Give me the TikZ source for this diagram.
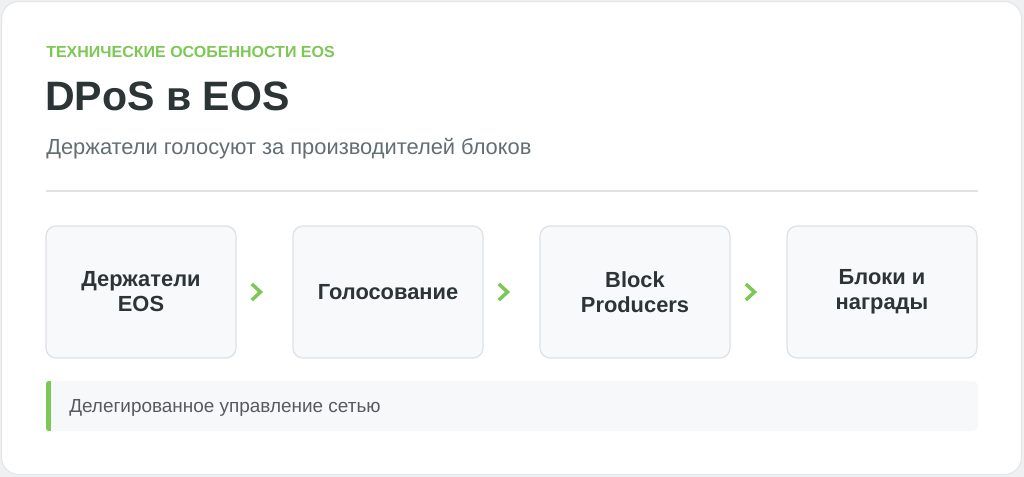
\documentclass[tikz,border=0pt]{standalone}
\usepackage{fontspec}
\usetikzlibrary{calc}
\setmainfont{Liberation Sans}
\definecolor{pagebg}{HTML}{EEF0F2}
\definecolor{cardborder}{HTML}{E3E6E9}
\definecolor{accent}{HTML}{7DC855}
\definecolor{titlec}{HTML}{2D3436}
\definecolor{subc}{HTML}{636E72}
\definecolor{rulec}{HTML}{DFE3E6}
\definecolor{boxfill}{HTML}{F7F9FB}
\definecolor{boxdraw}{HTML}{DDE2E6}
\definecolor{notefill}{HTML}{F7F8FA}
\definecolor{notetext}{HTML}{555B5E}
\tikzset{
  stepbox/.style={draw=boxdraw, line width=0.9pt, fill=boxfill, rounded corners=7.5pt,
    minimum width=142.5pt, minimum height=99pt, inner sep=0pt, align=center,
    font=\fontsize{16.4pt}{18.8pt}\selectfont\bfseries, text=titlec},
  chev/.style={draw=accent, line width=2.6pt, line cap=butt, line join=miter},
}
\begin{document}
\begin{tikzpicture}[x=0.75pt,y=-0.75pt]
\useasboundingbox (0,0) rectangle (1024,477);
\fill[pagebg] (0,0) rectangle (1024,477);
\draw[cardborder, fill=white, line width=0.8pt, rounded corners=13pt] (1.5,1.5) rectangle (1021.5,474.5);
% header
\node[anchor=base west, inner sep=0pt, text=accent, font=\fontsize{12pt}{14pt}\selectfont\bfseries] (eyebrow) at (46,58) {ТЕХНИЧЕСКИЕ ОСОБЕННОСТИ EOS};
\node[anchor=base west, inner sep=0pt, text=titlec, font=\fontsize{30.8pt}{36pt}\selectfont\bfseries] (title) at (45,111) {DPoS в EOS};
\node[anchor=base west, inner sep=0pt, text=subc, font=\fontsize{16.4pt}{19pt}\selectfont] (sub) at (46,155) {Держатели голосуют за производителей блоков};
\draw[rulec, line width=1pt] (46,191) -- (978,191);
% steps
\node[stepbox] (s1) at (141,292) {Держатели\\EOS};
\node[stepbox] (s2) at (388,292) {Голосование};
\node[stepbox] (s3) at (635,292) {Block\\Producers};
\node[stepbox] (s4) at (882,292) {Блоки и\\награды};
\foreach \a/\b [count=\i] in {s1/s2,s2/s3,s3/s4}{
  \coordinate (m\i) at ($(\a.east)!0.5!(\b.west)$);
  \draw[chev] ([xshift=-9.5pt,yshift=6pt]m\i) -- ([xshift=-3pt]m\i) -- ([xshift=-9.5pt,yshift=-6pt]m\i);
}
% note
\fill[notefill, rounded corners=4.5pt] (46,381) rectangle (978,431);
\fill[accent, rounded corners=2pt] (46,381) rectangle (50.5,431);
\fill[accent] (48.5,381) rectangle (50.5,431);
\node[anchor=base west, inner sep=0pt, text=notetext, font=\fontsize{14.2pt}{16pt}\selectfont] (note) at (69,412.5) {Делегированное управление сетью};
\end{tikzpicture}
\end{document}
